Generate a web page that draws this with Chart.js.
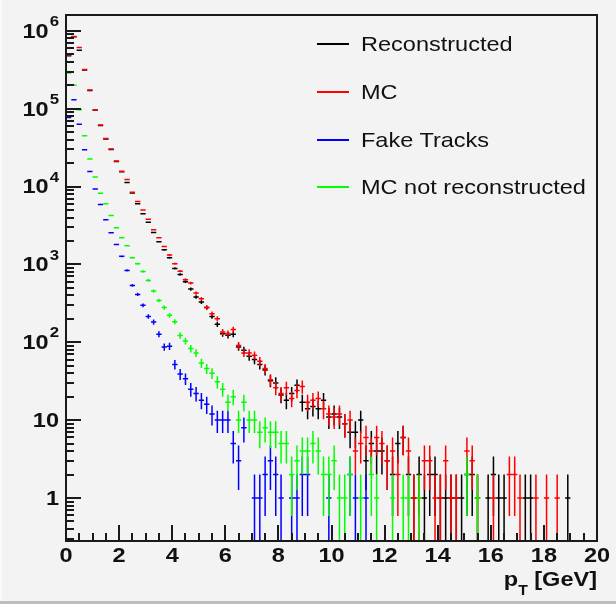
<!DOCTYPE html>
<html>
<head>
<meta charset="utf-8">
<script src="https://cdn.jsdelivr.net/npm/chart.js@4.4.0/dist/chart.umd.min.js"></script>
<style>
  html, body { margin: 0; padding: 0; background: #f3f3f3; }
  #wrap { position: relative; width: 616px; height: 604px; overflow: hidden; }
  #chart { position: absolute; left: 0; top: 0; }
  #legend { position: absolute; left: 317px; top: 0; font-family: 'Liberation Sans', Arial, sans-serif; font-size: 21px; color: #111; }
  .item { position: absolute; left: 0; height: 24px; width: 290px; }
  .swatch { position: absolute; left: 0; top: 11px; width: 32px; height: 1.5px; }
  .label { position: absolute; left: 44px; top: 0; line-height: 24px; white-space: nowrap; transform: scaleX(1.12); transform-origin: left center; }
  #edgeBottom { position: absolute; left: 0; top: 601px; width: 616px; height: 3px; background: #bdbdbd; }
  #edgeLeft { position: absolute; left: 0; top: 0; width: 2px; height: 601px; background: #fafafa; }
</style>
</head>
<body>
<div id="wrap">
  <canvas id="chart" width="616" height="604"></canvas>
  <div id="legend"></div>
  <div id="edgeLeft"></div>
  <div id="edgeBottom"></div>
</div>
<script>
// histogram range: 100 bins of 0.2 GeV
const xMin = 0;
const xMax = 20;
const yMin = 0.28;
const yMax = 1.6e6;

// bin contents (bins 0..99)
const reconstructed = [
  480000, 840000, 565000, 315000, 172000, 96000, 61000, 41000, 30000, 21000,
  15500, 11300, 8300, 6000, 4470, 3490, 2570, 1950, 1540, 1220,
  889, 745, 600, 482, 381, 329, 279, 215, 170, 129,
  123, 127, 87, 79, 66, 60, 52, 44, 32, 30,
  21, 18, 22, 28, 17, 14, 15, 14, 18, 11,
  12, 11, 9, 7, 7, 10, 3, 5, 4, 4,
  3, 2, 5, 6, 2, 1, 2, 1, 2, 2,
  1, 1, 1, 1, 1, 2, 2, 1, 0, 1,
  2, 1, 1, 0, 0, 0, 1, 1, 0, 0,
  0, 0, 0, 0, 1, 0, 0, 0, 0, 0
];
const mc = [
  490000, 850000, 610000, 320000, 174000, 97000, 62000, 41600, 30400, 21300,
  15700, 12300, 8450, 6450, 5000, 3810, 2790, 2200, 1700, 1320,
  1020, 820, 637, 576, 429, 363, 279, 233, 201, 136,
  130, 146, 91, 73, 73, 68, 57, 46, 33, 26,
  22, 26, 19, 24, 27, 17, 18, 19, 14, 12,
  11, 12, 9, 10, 4, 5, 6, 4, 6, 5,
  3, 4, 2, 6, 4, 1, 1, 3, 3, 1,
  1, 3, 1, 1, 0, 4, 3, 1, 0, 0,
  1, 0, 0, 2, 2, 1, 0, 0, 1, 0,
  1, 0, 1, 0, 0, 0, 0, 0, 0, 0
];
const fakeTracks = [
  77000, 130000, 63000, 29800, 15600, 9300, 5900, 3740, 2550, 1800,
  1270, 838, 538, 412, 298, 215, 182, 127, 87, 89,
  52, 39, 34, 25, 22, 18, 16, 12, 10, 10,
  10, 5, 3, 8, 0, 1, 1, 2, 3, 2,
  1, 0, 1, 1, 2, 2, 0, 0, 0, 1,
  0, 0, 0, 2, 1, 0, 1, 0, 0, 0,
  0, 0, 0, 0, 0, 0, 0, 0, 0, 0,
  0, 0, 0, 0, 0, 0, 0, 0, 0, 0,
  0, 0, 0, 0, 0, 0, 0, 0, 0, 0,
  0, 0, 0, 0, 0, 0, 0, 0, 0, 0
];
const mcNotReconstructed = [
  287000, 200000, 97000, 45000, 22600, 13300, 8200, 6000, 4250, 2950,
  2200, 1740, 1220, 1020, 813, 623, 455, 345, 279, 222,
  184, 122, 104, 83, 73, 54, 46, 40, 31, 25,
  17, 20, 10, 17, 10, 10, 7, 8, 7, 7,
  5, 5, 2, 3, 4, 4, 5, 4, 2, 2,
  3, 1, 1, 2, 0, 1, 0, 2, 1, 0,
  0, 1, 0, 1, 1, 0, 1, 0, 0, 0,
  0, 0, 0, 0, 0, 2, 0, 1, 0, 0,
  0, 0, 0, 0, 0, 0, 0, 0, 0, 0,
  0, 0, 0, 0, 0, 0, 0, 0, 0, 0
];

const seriesNames = ['Reconstructed', 'MC', 'Fake Tracks', 'MC not reconstructed'];
const seriesColors = ['#000000', '#ff0000', '#0000ff', '#00ff00'];

// axis ticks
const xTickLabels = ['0', '2', '4', '6', '8', '10', '12', '14', '16', '18', '20'];
const xMinorStep = 0.5;
const yTickValues = [1, 10, 100, 1000, 10000, 100000, 1000000];
const yTickBases = ['1', '10', '10', '10', '10', '10', '10'];
const yTickExps = ['', '', '2', '3', '4', '5', '6'];
const xTitle = 'p';
const xTitleSub = 'T';
const xTitleRest = ' [GeV]';

// turn bin contents into cross-shaped error bars (bin width x sqrt(N))
function errorBarPoints(counts) {
  const width = (xMax - xMin) / counts.length;
  const pts = [];
  counts.forEach((n, i) => {
    if (!n) return;
    const lo = xMin + i * width;
    const hi = lo + width;
    const c = lo + width / 2;
    const err = Math.sqrt(n);
    pts.push({ x: lo, y: n }, { x: hi, y: n }, { x: c, y: null });
    pts.push({ x: c, y: Math.max(n - err, 0.05) }, { x: c, y: n + err }, { x: c, y: null });
  });
  return pts;
}

const allSeries = [reconstructed, mc, fakeTracks, mcNotReconstructed];
const datasets = allSeries.map((counts, i) => ({
  label: seriesNames[i],
  data: errorBarPoints(counts),
  showLine: true,
  spanGaps: false,
  borderColor: seriesColors[i],
  borderWidth: 1.5,
  pointRadius: 0,
  pointHoverRadius: 0,
  clip: 0,
  order: allSeries.length - i // black drawn first, green last
}));

const FONT = "'Liberation Sans', Arial, sans-serif";
const STRETCH = 1.12;
const AXIS_COLOR = '#1a1a1a';

function stretchedText(ctx, text, x, y, align) {
  const w = ctx.measureText(text).width * STRETCH;
  let left = x;
  if (align === 'center') left = x - w / 2;
  if (align === 'right') left = x - w;
  ctx.save();
  ctx.translate(left, y);
  ctx.scale(STRETCH, 1);
  ctx.textAlign = 'left';
  ctx.fillText(text, 0, 0);
  ctx.restore();
  return w;
}

const rootAxes = {
  id: 'rootAxes',
  afterDraw(chart) {
    const { ctx, chartArea: a } = chart;
    const xs = chart.scales.x;
    const ys = chart.scales.y;
    ctx.save();
    ctx.fillStyle = AXIS_COLOR;

    // frame
    ctx.fillRect(a.left - 1, a.top - 1, a.right - a.left + 2, 2);
    ctx.fillRect(a.left - 1, a.bottom - 1, a.right - a.left + 2, 2);
    ctx.fillRect(a.left - 1, a.top - 1, 2, a.bottom - a.top + 2);
    ctx.fillRect(a.right - 1, a.top - 1, 2, a.bottom - a.top + 2);

    // y ticks (log), pointing inwards
    for (let d = -1; d <= 6; d++) {
      for (let k = 1; k <= 9; k++) {
        const py = Math.round(ys.getPixelForValue(k * Math.pow(10, d)));
        if (!isFinite(py) || py < a.top || py > a.bottom) continue;
        ctx.fillRect(a.left, py - 1, k === 1 ? 15 : 8, 2);
      }
    }

    // x ticks, pointing inwards
    const majorStep = parseFloat(xTickLabels[1]) - parseFloat(xTickLabels[0]);
    for (let v = xMin; v <= xMax + 1e-9; v += xMinorStep) {
      const px = Math.round(xs.getPixelForValue(v));
      const major = Math.abs(v / majorStep - Math.round(v / majorStep)) < 1e-6;
      const len = major ? 16 : 8;
      ctx.fillRect(px - 1, a.bottom - len, 2, len);
    }

    ctx.fillStyle = '#111';
    ctx.textBaseline = 'middle';

    // x labels
    ctx.font = 'bold 21px ' + FONT;
    xTickLabels.forEach(lab => {
      const px = xs.getPixelForValue(parseFloat(lab));
      stretchedText(ctx, lab, px, a.bottom + 15, 'center');
    });

    // y labels with exponents
    yTickValues.forEach((v, i) => {
      const py = ys.getPixelForValue(v);
      let right = a.left - 7;
      if (yTickExps[i]) {
        ctx.font = 'bold 15px ' + FONT;
        const w = stretchedText(ctx, yTickExps[i], right, py - 9, 'right');
        right -= w + 1;
      }
      ctx.font = 'bold 21px ' + FONT;
      stretchedText(ctx, yTickBases[i], right, py + 1, 'right');
    });

    // axis title p_T [GeV], right aligned to the frame
    ctx.textBaseline = 'alphabetic';
    ctx.font = 'bold 21px ' + FONT;
    const wRest = ctx.measureText(xTitleRest).width * STRETCH;
    const wP = ctx.measureText(xTitle).width * STRETCH;
    ctx.font = 'bold 14px ' + FONT;
    const wT = ctx.measureText(xTitleSub).width * STRETCH;
    const x0 = a.right - wRest - wT - wP;
    ctx.font = 'bold 21px ' + FONT;
    stretchedText(ctx, xTitle, x0, 586, 'left');
    ctx.font = 'bold 14px ' + FONT;
    stretchedText(ctx, xTitleSub, x0 + wP, 595, 'left');
    ctx.font = 'bold 21px ' + FONT;
    stretchedText(ctx, xTitleRest, x0 + wP + wT, 586, 'left');
    ctx.restore();
  }
};

new Chart(document.getElementById('chart'), {
  type: 'scatter',
  data: { datasets: datasets },
  options: {
    responsive: false,
    animation: false,
    events: [],
    layout: { padding: { left: 66, top: 15, right: 19, bottom: 63 } },
    plugins: { legend: { display: false }, tooltip: { enabled: false } },
    scales: {
      x: { type: 'linear', min: xMin, max: xMax, display: false },
      y: { type: 'logarithmic', min: yMin, max: yMax, display: false }
    }
  },
  plugins: [rootAxes]
});

// legend, one entry per row like the ROOT TLegend
const legendTops = [32, 80, 128, 175];
const legend = document.getElementById('legend');
seriesNames.forEach((name, i) => {
  const item = document.createElement('div');
  item.className = 'item';
  item.style.top = legendTops[i] + 'px';
  const sw = document.createElement('div');
  sw.className = 'swatch';
  sw.style.background = seriesColors[i];
  const lab = document.createElement('div');
  lab.className = 'label';
  lab.textContent = name;
  item.appendChild(sw);
  item.appendChild(lab);
  legend.appendChild(item);
});
</script>
</body>
</html>
